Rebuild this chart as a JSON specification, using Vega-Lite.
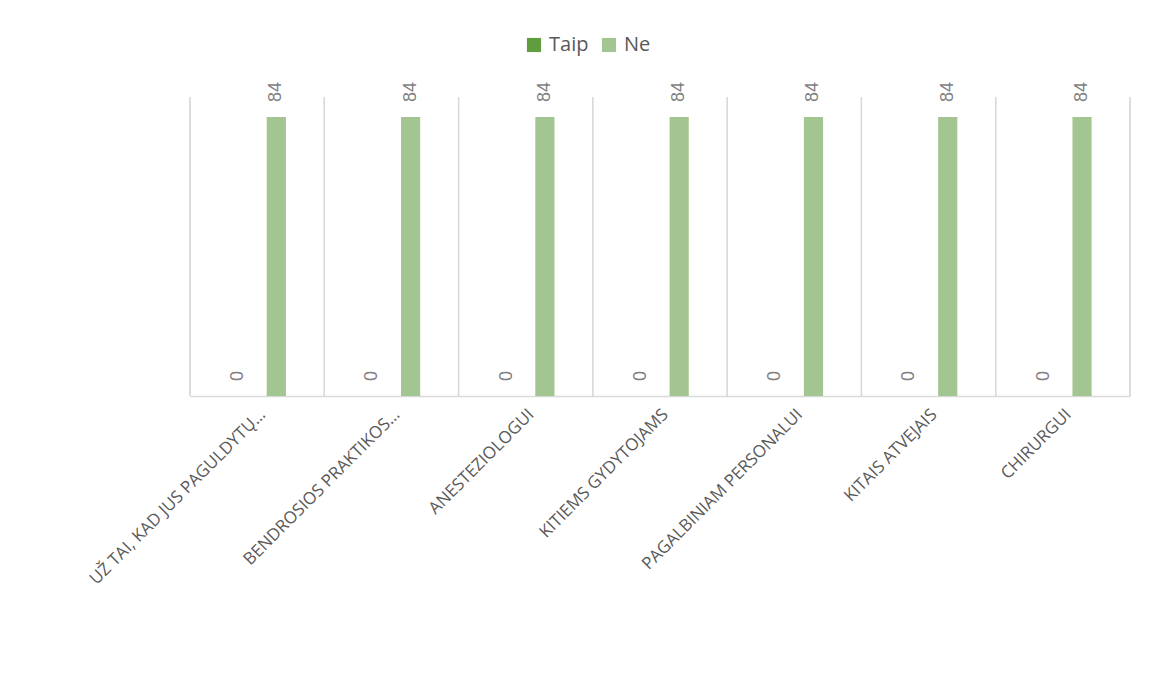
{
  "$schema": "https://vega.github.io/schema/vega-lite/v6.json",
  "autosize": {"type": "none"},
  "width": 940,
  "height": 299,
  "padding": {"left": 190, "top": 97, "right": 35, "bottom": 279},
  "background": "white",
  "config": {
    "view": {"stroke": null},
    "font": "Liberation Sans"
  },
  "data": {
    "values": [
      {"cat": "UŽ TAI, KAD JUS PAGULDYTŲ…", "series": "Taip", "value": 0},
      {"cat": "UŽ TAI, KAD JUS PAGULDYTŲ…", "series": "Ne", "value": 84},
      {"cat": "BENDROSIOS PRAKTIKOS…", "series": "Taip", "value": 0},
      {"cat": "BENDROSIOS PRAKTIKOS…", "series": "Ne", "value": 84},
      {"cat": "ANESTEZIOLOGUI", "series": "Taip", "value": 0},
      {"cat": "ANESTEZIOLOGUI", "series": "Ne", "value": 84},
      {"cat": "KITIEMS GYDYTOJAMS", "series": "Taip", "value": 0},
      {"cat": "KITIEMS GYDYTOJAMS", "series": "Ne", "value": 84},
      {"cat": "PAGALBINIAM PERSONALUI", "series": "Taip", "value": 0},
      {"cat": "PAGALBINIAM PERSONALUI", "series": "Ne", "value": 84},
      {"cat": "KITAIS ATVEJAIS", "series": "Taip", "value": 0},
      {"cat": "KITAIS ATVEJAIS", "series": "Ne", "value": 84},
      {"cat": "CHIRURGUI", "series": "Taip", "value": 0},
      {"cat": "CHIRURGUI", "series": "Ne", "value": 84}
    ]
  },
  "encoding": {
    "x": {
      "field": "cat",
      "type": "nominal",
      "sort": null,
      "scale": {"paddingInner": 0, "paddingOuter": 0},
      "axis": {
        "title": null,
        "labelAngle": -45,
        "labelFontSize": 17,
        "labelFont": "Open Sans",
        "labelColor": "#595959",
        "labelLimit": 0,
        "labelPadding": 10,
        "labelOverlap": false,
        "ticks": false,
        "domainColor": "#d9d9d9",
        "domainWidth": 1.3,
        "grid": false
      }
    }
  },
  "layer": [
    {
      "mark": {"type": "rule", "color": "#d9d9d9", "strokeWidth": 1.3},
      "encoding": {
        "x": {"field": "cat", "type": "nominal", "sort": null, "bandPosition": 0}
      }
    },
    {
      "transform": [{"filter": "datum.cat === 'CHIRURGUI'"}],
      "mark": {"type": "rule", "color": "#d9d9d9", "strokeWidth": 1.3},
      "encoding": {
        "x": {"field": "cat", "type": "nominal", "sort": null, "bandPosition": 1}
      }
    },
    {
      "mark": {"type": "bar"},
      "encoding": {
        "xOffset": {
          "field": "series",
          "type": "nominal",
          "sort": ["Taip", "Ne"],
          "scale": {"paddingInner": 0.5, "paddingOuter": 1.115}
        },
        "y": {
          "field": "value",
          "type": "quantitative",
          "scale": {"domain": [0, 90], "nice": false},
          "axis": null
        },
        "color": {
          "field": "series",
          "type": "nominal",
          "sort": ["Taip", "Ne"],
          "scale": {"domain": ["Taip", "Ne"], "range": ["#609d3f", "#a3c591"]},
          "legend": {
            "title": null,
            "orient": "none",
            "direction": "horizontal",
            "legendX": 334,
            "legendY": -62,
            "symbolType": "square",
            "symbolSize": 200,
            "symbolStrokeWidth": 0,
            "labelFontSize": 20,
            "labelColor": "#595959",
            "labelFont": "Open Sans",
            "columnPadding": 10,
            "labelOffset": 5
          }
        }
      }
    },
    {
      "mark": {
        "type": "text",
        "angle": -90,
        "align": "left",
        "baseline": "middle",
        "dx": 15,
        "fontSize": 18,
        "color": "#7f7f7f"
      },
      "encoding": {
        "xOffset": {
          "field": "series",
          "type": "nominal",
          "sort": ["Taip", "Ne"],
          "scale": {"paddingInner": 0.5, "paddingOuter": 1.115}
        },
        "y": {"field": "value", "type": "quantitative"},
        "text": {"field": "value", "type": "quantitative"}
      }
    }
  ]
}
